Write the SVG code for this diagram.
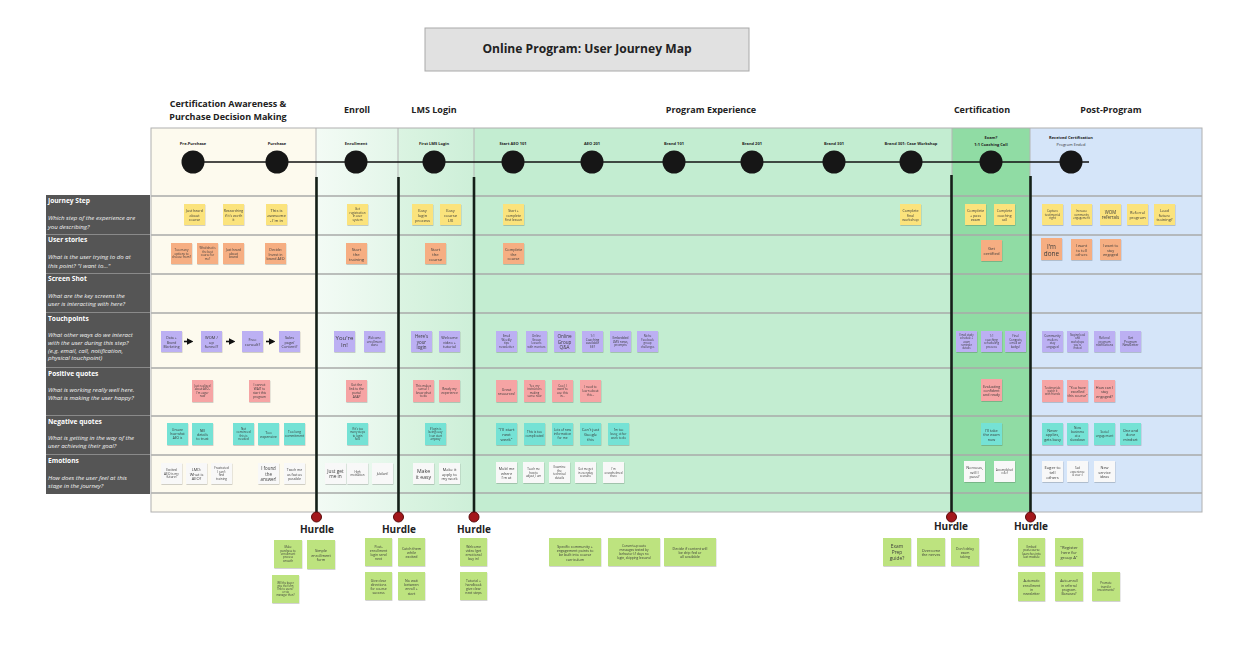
<svg xmlns="http://www.w3.org/2000/svg" width="1253" height="646" viewBox="0 0 1253 646">
<defs>
<style>
text{font-family:"Open Sans","Noto Sans","Liberation Sans",sans-serif}
.title{font-size:12.1px;font-weight:700;fill:#222;text-anchor:middle}
.hd{font-size:9px;font-weight:700;fill:#222;text-anchor:middle}
.tl{font-size:4px;font-weight:700;fill:#222;text-anchor:middle}
.tln{font-size:4px;fill:#333;text-anchor:middle}
.lt{font-size:6.6px;font-weight:700;fill:#fff}
.ld{font-size:6.1px;font-style:italic;fill:#f2f2f2}
.hur{font-size:10px;font-weight:700;fill:#222;text-anchor:middle}
.tx{fill:#3a3a3a;text-anchor:middle;dominant-baseline:central}
.s{filter:url(#sh)}
.y{fill:#fbe37c}.o{fill:#f6ae82}.p{fill:#bcb0f3}.r{fill:#f6a4a4}.t{fill:#74e2d5}.w{fill:#f8f8f8}.g{fill:#bde37f}
.row{stroke:#a9aaa9;stroke-width:1.5}
.thin{stroke:#b5b5b5;stroke-width:1}
.div{stroke:#142018;stroke-width:2.6}
.dot{fill:#a3171b;stroke:#5b0a0a;stroke-width:1}
.node{fill:#161616}
.lab{fill:#555}
.lsep{stroke:#8a8a8a;stroke-width:1}
</style>
<filter id="sh" x="-20%" y="-20%" width="150%" height="150%"><feDropShadow dx="0.4" dy="0.8" stdDeviation="0.6" flood-color="#000" flood-opacity="0.22"/></filter>
<linearGradient id="gEn" x1="0" y1="0" x2="1" y2="0"><stop offset="0" stop-color="#f3fbf5"/><stop offset="1" stop-color="#e3f6e9"/></linearGradient>
<linearGradient id="gLm" x1="0" y1="0" x2="1" y2="0"><stop offset="0" stop-color="#dbf4e2"/><stop offset="1" stop-color="#cdefd8"/></linearGradient>
<marker id="ah" markerWidth="4" markerHeight="4" refX="2.5" refY="2" orient="auto"><path d="M0,0 L4,2 L0,4 z" fill="#111"/></marker>
</defs>
<rect width="1253" height="646" fill="#ffffff"/>

<g id="title">
<rect x="425" y="28" width="324" height="43" fill="#e1e1e1" stroke="#a9a9a9" stroke-width="1"/>
<text class="title" x="587" y="53">Online Program: User Journey Map</text>
</g>

<g id="stage-headers">
<text class="hd" x="228" y="107">Certification Awareness &amp;</text>
<text class="hd" x="228" y="120">Purchase Decision Making</text>
<text class="hd" x="357" y="113">Enroll</text>
<text class="hd" x="434" y="113">LMS Login</text>
<text class="hd" x="711" y="113">Program Experience</text>
<text class="hd" x="982" y="113">Certification</text>
<text class="hd" x="1111" y="113">Post-Program</text>
</g>

<g id="row-labels">
<rect class="lab" x="46" y="195" width="104" height="299"/>
<line class="lsep" x1="46" y1="234.5" x2="150" y2="234.5"/>
<line class="lsep" x1="46" y1="273.5" x2="150" y2="273.5"/>
<line class="lsep" x1="46" y1="312.5" x2="150" y2="312.5"/>
<line class="lsep" x1="46" y1="367.5" x2="150" y2="367.5"/>
<line class="lsep" x1="46" y1="415.5" x2="150" y2="415.5"/>
<line class="lsep" x1="46" y1="454.5" x2="150" y2="454.5"/>
<text class="lt" x="48" y="203">Journey Step</text>
<text class="ld" x="48" y="220">Which step of the experience are</text>
<text class="ld" x="48" y="229">you describing?</text>
<text class="lt" x="48" y="242">User stories</text>
<text class="ld" x="48" y="259">What is the user trying to do at</text>
<text class="ld" x="48" y="267.5">this point? "I want to..."</text>
<text class="lt" x="48" y="281">Screen Shot</text>
<text class="ld" x="48" y="297.5">What are the key screens the</text>
<text class="ld" x="48" y="306">user is interacting with here?</text>
<text class="lt" x="48" y="320.5">Touchpoints</text>
<text class="ld" x="48" y="337">What other ways do we interact</text>
<text class="ld" x="48" y="345">with the user during this step?</text>
<text class="ld" x="48" y="352.5">(e.g. email, call, notification,</text>
<text class="ld" x="48" y="360">physical touchpoint)</text>
<text class="lt" x="48" y="375.5">Positive quotes</text>
<text class="ld" x="48" y="391.5">What is working really well here.</text>
<text class="ld" x="48" y="399.5">What is making the user happy?</text>
<text class="lt" x="48" y="423.5">Negative quotes</text>
<text class="ld" x="48" y="439.5">What is getting in the way of the</text>
<text class="ld" x="48" y="447.5">user achieving their goal?</text>
<text class="lt" x="48" y="462.5">Emotions</text>
<text class="ld" x="48" y="479.5">How does the user feel at this</text>
<text class="ld" x="48" y="487.5">stage in the journey?</text>
</g>

<g id="grid">
<rect x="151" y="128" width="165" height="384" fill="#fdfaee"/>
<rect x="316" y="128" width="82" height="384" fill="url(#gEn)"/>
<rect x="398" y="128" width="76" height="384" fill="url(#gLm)"/>
<rect x="474" y="128" width="478" height="384" fill="#c3edd1"/>
<rect x="952" y="128" width="78" height="384" fill="#90dca4"/>
<rect x="1030" y="128" width="172" height="384" fill="#d5e5f9"/>
<line class="row" x1="151" y1="196" x2="1202" y2="196"/>
<line class="row" x1="151" y1="235" x2="1202" y2="235"/>
<line class="row" x1="151" y1="274" x2="1202" y2="274"/>
<line class="row" x1="151" y1="313" x2="1202" y2="313"/>
<line class="row" x1="151" y1="368" x2="1202" y2="368"/>
<line class="row" x1="151" y1="416" x2="1202" y2="416"/>
<line class="row" x1="151" y1="455" x2="1202" y2="455"/>
<line class="row" x1="151" y1="493" x2="1202" y2="493"/>
<line class="thin" x1="316" y1="128" x2="316" y2="512"/>
<line class="thin" x1="398" y1="128" x2="398" y2="512"/>
<line class="thin" x1="474" y1="128" x2="474" y2="512"/>
<line class="thin" x1="952" y1="128" x2="952" y2="512"/>
<line class="thin" x1="1030" y1="128" x2="1030" y2="512"/>
<rect x="151" y="128" width="1051" height="384" fill="none" stroke="#b0b0b0" stroke-width="1"/>
</g>

<g id="connectors">
<line x1="193" y1="162" x2="1089" y2="162" stroke="#111" stroke-width="1.6"/>
<line class="div" x1="316.5" y1="177" x2="316.5" y2="514"/>
<line class="div" x1="398.5" y1="177" x2="398.5" y2="514"/>
<line class="div" x1="474" y1="177" x2="474" y2="514"/>
<line class="div" x1="951.5" y1="175" x2="951.5" y2="514"/>
<line class="div" x1="1030.5" y1="176" x2="1030.5" y2="514"/>
<line x1="184" y1="341.5" x2="191" y2="341.5" stroke="#111" stroke-width="1.6" marker-end="url(#ah)"/>
<line x1="226" y1="341.5" x2="233" y2="341.5" stroke="#111" stroke-width="1.6" marker-end="url(#ah)"/>
<line x1="266" y1="341.5" x2="273" y2="341.5" stroke="#111" stroke-width="1.6" marker-end="url(#ah)"/>
</g>

<g id="timeline">
<g id="n-prepurchase"><circle class="node" cx="193" cy="162" r="11.5"/><text class="tl" x="193" y="145">Pre-Purchase</text></g>
<g id="n-purchase"><circle class="node" cx="277" cy="162" r="11.5"/><text class="tl" x="277" y="145">Purchase</text></g>
<g id="n-enrollment"><circle class="node" cx="356" cy="162" r="11.5"/><text class="tl" x="356" y="145">Enrollment</text></g>
<g id="n-firstlogin"><circle class="node" cx="434" cy="162" r="11.5"/><text class="tl" x="434" y="145">First LMS Login</text></g>
<g id="n-aeo101"><circle class="node" cx="513" cy="162" r="11.5"/><text class="tl" x="513" y="145">Start AEO 101</text></g>
<g id="n-aeo201"><circle class="node" cx="592" cy="162" r="11.5"/><text class="tl" x="592" y="145">AEO 201</text></g>
<g id="n-brand101"><circle class="node" cx="674" cy="162" r="11.5"/><text class="tl" x="674" y="145">Brand 101</text></g>
<g id="n-brand201"><circle class="node" cx="752" cy="162" r="11.5"/><text class="tl" x="752" y="145">Brand 201</text></g>
<g id="n-brand301"><circle class="node" cx="834" cy="162" r="11.5"/><text class="tl" x="834" y="145">Brand 301</text></g>
<g id="n-case"><circle class="node" cx="911" cy="162" r="11.5"/><text class="tl" x="911" y="145">Brand 301: Case Workshop</text></g>
<g id="n-exam"><circle class="node" cx="991" cy="162" r="11.5"/><text class="tl" x="991" y="139">Exam?</text><text class="tl" x="991" y="146">1:1 Coaching Call</text></g>
<g id="n-received"><circle class="node" cx="1071" cy="162" r="11.5"/><text class="tl" x="1071" y="139">Received Certification</text><text class="tln" x="1071" y="146">Program Ended</text></g>
</g>

<g id="journey-steps">
<g id="js1" class="s"><rect class="y" x="184" y="204" width="21" height="21"/><text class="tx" x="194.5" y="210.2" font-size="3.6"><tspan x="194.5">Just heard</tspan><tspan x="194.5" dy="4.3">about</tspan><tspan x="194.5" dy="4.3">course</tspan></text></g>
<g id="js2" class="s"><rect class="y" x="223" y="204" width="21" height="21"/><text class="tx" x="233.5" y="210.4" font-size="3.4"><tspan x="233.5">Researching</tspan><tspan x="233.5" dy="4.1">if it's worth</tspan><tspan x="233.5" dy="4.1">it</tspan></text></g>
<g id="js3" class="s"><rect class="y" x="266" y="204" width="21" height="21"/><text class="tx" x="276.5" y="209.5" font-size="4.2"><tspan x="276.5">This is</tspan><tspan x="276.5" dy="5">awesome</tspan><tspan x="276.5" dy="5">- I'm in</tspan></text></g>
<g id="js4" class="s"><rect class="y" x="347" y="204" width="21" height="21"/><text class="tx" x="357.5" y="209.1" font-size="3"><tspan x="357.5">Get</tspan><tspan x="357.5" dy="3.6">registration</tspan><tspan x="357.5" dy="3.6">in user</tspan><tspan x="357.5" dy="3.6">system</tspan></text></g>
<g id="js5" class="s"><rect class="y" x="412" y="204" width="21" height="21"/><text class="tx" x="422.5" y="209.5" font-size="4.2"><tspan x="422.5">Easy</tspan><tspan x="422.5" dy="5">login</tspan><tspan x="422.5" dy="5">process</tspan></text></g>
<g id="js6" class="s"><rect class="y" x="440" y="204" width="21" height="21"/><text class="tx" x="450.5" y="209.5" font-size="4.2"><tspan x="450.5">Easy</tspan><tspan x="450.5" dy="5">course</tspan><tspan x="450.5" dy="5">UX</tspan></text></g>
<g id="js7" class="s"><rect class="y" x="503" y="204" width="21" height="21"/><text class="tx" x="513.5" y="210.4" font-size="3.4"><tspan x="513.5">Start +</tspan><tspan x="513.5" dy="4.1">complete</tspan><tspan x="513.5" dy="4.1">first lesson</tspan></text></g>
<g id="js8" class="s"><rect class="y" x="900" y="204" width="21" height="21"/><text class="tx" x="910.5" y="210.2" font-size="3.6"><tspan x="910.5">Complete</tspan><tspan x="910.5" dy="4.3">final</tspan><tspan x="910.5" dy="4.3">workshop</tspan></text></g>
<g id="js9" class="s"><rect class="y" x="965" y="204" width="21" height="21"/><text class="tx" x="975.5" y="210" font-size="3.8"><tspan x="975.5">Complete</tspan><tspan x="975.5" dy="4.5">+ pass</tspan><tspan x="975.5" dy="4.5">exam</tspan></text></g>
<g id="js10" class="s"><rect class="y" x="994" y="204" width="21" height="21"/><text class="tx" x="1004.5" y="210.4" font-size="3.4"><tspan x="1004.5">Complete</tspan><tspan x="1004.5" dy="4.1">coaching</tspan><tspan x="1004.5" dy="4.1">call</tspan></text></g>
<g id="js11" class="s"><rect class="y" x="1042" y="204" width="21" height="21"/><text class="tx" x="1052.5" y="210.9" font-size="3"><tspan x="1052.5">Capture</tspan><tspan x="1052.5" dy="3.6">testimonial</tspan><tspan x="1052.5" dy="3.6">right</tspan></text></g>
<g id="js12" class="s"><rect class="y" x="1071" y="204" width="21" height="21"/><text class="tx" x="1081.5" y="211.1" font-size="2.8"><tspan x="1081.5">Increase</tspan><tspan x="1081.5" dy="3.4">community</tspan><tspan x="1081.5" dy="3.4">engagement</tspan></text></g>
<g id="js13" class="s"><rect class="y" x="1100" y="204" width="21" height="21"/><text class="tx" x="1110.5" y="211.9" font-size="4.4"><tspan x="1110.5">WOM</tspan><tspan x="1110.5" dy="5.2">referrals</tspan></text></g>
<g id="js14" class="s"><rect class="y" x="1127" y="204" width="21" height="21"/><text class="tx" x="1137.5" y="212.1" font-size="4"><tspan x="1137.5">Referral</tspan><tspan x="1137.5" dy="4.8">program</tspan></text></g>
<g id="js15" class="s"><rect class="y" x="1154" y="204" width="21" height="21"/><text class="tx" x="1164.5" y="209.7" font-size="4"><tspan x="1164.5">Lead</tspan><tspan x="1164.5" dy="4.8">future</tspan><tspan x="1164.5" dy="4.8">training?</tspan></text></g>
</g>

<g id="user-stories">
<g id="us1" class="s"><rect class="o" x="171" y="243" width="21" height="21"/><text class="tx" x="181.5" y="249.9" font-size="3"><tspan x="181.5">Too many</tspan><tspan x="181.5" dy="3.6">options to</tspan><tspan x="181.5" dy="3.6">choose from?</tspan></text></g>
<g id="us2" class="s"><rect class="o" x="197" y="243" width="21" height="21"/><text class="tx" x="207.5" y="248.4" font-size="2.8"><tspan x="207.5">Who/what is</tspan><tspan x="207.5" dy="3.4">the best</tspan><tspan x="207.5" dy="3.4">course for</tspan><tspan x="207.5" dy="3.4">me?</tspan></text></g>
<g id="us3" class="s"><rect class="o" x="223" y="243" width="21" height="21"/><text class="tx" x="233.5" y="249.7" font-size="3.2"><tspan x="233.5">Just heard</tspan><tspan x="233.5" dy="3.8">about</tspan><tspan x="233.5" dy="3.8">brand</tspan></text></g>
<g id="us4" class="s"><rect class="o" x="265" y="243" width="21" height="21"/><text class="tx" x="275.5" y="249.2" font-size="3.6"><tspan x="275.5">Decide:</tspan><tspan x="275.5" dy="4.3">Invest in</tspan><tspan x="275.5" dy="4.3">brand AEO</tspan></text></g>
<g id="us5" class="s"><rect class="o" x="346" y="243" width="21" height="21"/><text class="tx" x="356.5" y="248.5" font-size="4.2"><tspan x="356.5">Start</tspan><tspan x="356.5" dy="5">the</tspan><tspan x="356.5" dy="5">training</tspan></text></g>
<g id="us6" class="s"><rect class="o" x="425" y="243" width="21" height="21"/><text class="tx" x="435.5" y="248.5" font-size="4.2"><tspan x="435.5">Start</tspan><tspan x="435.5" dy="5">the</tspan><tspan x="435.5" dy="5">course</tspan></text></g>
<g id="us7" class="s"><rect class="o" x="503" y="243" width="21" height="21"/><text class="tx" x="513.5" y="249" font-size="3.8"><tspan x="513.5">Complete</tspan><tspan x="513.5" dy="4.5">the</tspan><tspan x="513.5" dy="4.5">course</tspan></text></g>
<g id="us8" class="s"><rect class="o" x="981" y="240" width="21" height="21"/><text class="tx" x="991.5" y="248" font-size="4.2"><tspan x="991.5">Get</tspan><tspan x="991.5" dy="5">certified</tspan></text></g>
<g id="us9" class="s"><rect class="o" x="1041" y="238" width="21" height="22"/><text class="tx" x="1051.5" y="245.5" font-size="6.4"><tspan x="1051.5">I'm</tspan><tspan x="1051.5" dy="7">done</tspan></text></g>
<g id="us10" class="s"><rect class="o" x="1071" y="239" width="21" height="21"/><text class="tx" x="1081.5" y="244.7" font-size="4"><tspan x="1081.5">I want</tspan><tspan x="1081.5" dy="4.8">to tell</tspan><tspan x="1081.5" dy="4.8">others</tspan></text></g>
<g id="us11" class="s"><rect class="o" x="1100" y="239" width="21" height="21"/><text class="tx" x="1110.5" y="245" font-size="3.8"><tspan x="1110.5">I want to</tspan><tspan x="1110.5" dy="4.5">stay</tspan><tspan x="1110.5" dy="4.5">engaged</tspan></text></g>
</g>

<g id="touchpoints">
<g id="tp1" class="s"><rect class="p" x="161" y="331" width="21" height="21"/><text class="tx" x="171.5" y="337.4" font-size="3.4"><tspan x="171.5">Data +</tspan><tspan x="171.5" dy="4.1">Brand</tspan><tspan x="171.5" dy="4.1">Marketing</tspan></text></g>
<g id="tp2" class="s"><rect class="p" x="201" y="331" width="21" height="21"/><text class="tx" x="211.5" y="336.7" font-size="4"><tspan x="211.5">WOM /</tspan><tspan x="211.5" dy="4.8">up</tspan><tspan x="211.5" dy="4.8">funnel?</tspan></text></g>
<g id="tp3" class="s"><rect class="p" x="242" y="331" width="21" height="21"/><text class="tx" x="252.5" y="339.1" font-size="4"><tspan x="252.5">Free</tspan><tspan x="252.5" dy="4.8">consult?</tspan></text></g>
<g id="tp4" class="s"><rect class="p" x="279" y="331" width="21" height="21"/><text class="tx" x="289.5" y="337" font-size="3.8"><tspan x="289.5">Sales</tspan><tspan x="289.5" dy="4.5">page/</tspan><tspan x="289.5" dy="4.5">Content?</tspan></text></g>
<g id="tp5" class="s"><rect class="p" x="334" y="331" width="21" height="21"/><text class="tx" x="344.5" y="338.2" font-size="6"><tspan x="344.5">You're</tspan><tspan x="344.5" dy="6.6">In!</tspan></text></g>
<g id="tp6" class="s"><rect class="p" x="364" y="331" width="21" height="21"/><text class="tx" x="374.5" y="337.9" font-size="3"><tspan x="374.5">Welcome</tspan><tspan x="374.5" dy="3.6">enrollment</tspan><tspan x="374.5" dy="3.6">done</tspan></text></g>
<g id="tp7" class="s"><rect class="p" x="411" y="331" width="21" height="21"/><text class="tx" x="421.5" y="336.3" font-size="4.4"><tspan x="421.5">Here's</tspan><tspan x="421.5" dy="5.2">your</tspan><tspan x="421.5" dy="5.2">login</tspan></text></g>
<g id="tp8" class="s"><rect class="p" x="439" y="331" width="21" height="21"/><text class="tx" x="449.5" y="337" font-size="3.8"><tspan x="449.5">Welcome</tspan><tspan x="449.5" dy="4.5">video +</tspan><tspan x="449.5" dy="4.5">tutorial</tspan></text></g>
<g id="tp9" class="s"><rect class="p" x="496" y="331" width="21" height="21"/><text class="tx" x="506.5" y="336.1" font-size="3"><tspan x="506.5">Email</tspan><tspan x="506.5" dy="3.6">Weekly</tspan><tspan x="506.5" dy="3.6">tips</tspan><tspan x="506.5" dy="3.6">newsletter</tspan></text></g>
<g id="tp10" class="s"><rect class="p" x="526" y="331" width="21" height="21"/><text class="tx" x="536.5" y="336.3" font-size="2.9"><tspan x="536.5">Online</tspan><tspan x="536.5" dy="3.5">Group</tspan><tspan x="536.5" dy="3.5">lessons</tspan><tspan x="536.5" dy="3.5">with mentors</tspan></text></g>
<g id="tp11" class="s"><rect class="p" x="554" y="331" width="21" height="21"/><text class="tx" x="564.5" y="336.2" font-size="4.6"><tspan x="564.5">Online</tspan><tspan x="564.5" dy="5.3">Group</tspan><tspan x="564.5" dy="5.3">Q&amp;A</tspan></text></g>
<g id="tp12" class="s"><rect class="p" x="582" y="331" width="21" height="21"/><text class="tx" x="592.5" y="335.8" font-size="3.2"><tspan x="592.5">1:1</tspan><tspan x="592.5" dy="3.8">Coaching</tspan><tspan x="592.5" dy="3.8">available</tspan><tspan x="592.5" dy="3.8">$$?</tspan></text></g>
<g id="tp13" class="s"><rect class="p" x="610" y="331" width="21" height="21"/><text class="tx" x="620.5" y="337.7" font-size="3.2"><tspan x="620.5">Embedded</tspan><tspan x="620.5" dy="3.8">LMS news,</tspan><tspan x="620.5" dy="3.8">prompts</tspan></text></g>
<g id="tp14" class="s"><rect class="p" x="637" y="331" width="21" height="21"/><text class="tx" x="647.5" y="336.4" font-size="2.8"><tspan x="647.5">Niche</tspan><tspan x="647.5" dy="3.4">Facebook</tspan><tspan x="647.5" dy="3.4">group</tspan><tspan x="647.5" dy="3.4">challenges</tspan></text></g>
<g id="tp15" class="s"><rect class="p" x="956" y="331" width="21" height="21"/><text class="tx" x="966.5" y="335.3" font-size="2.6"><tspan x="966.5">Email study</tspan><tspan x="966.5" dy="3.1">schedule +</tspan><tspan x="966.5" dy="3.1">exam</tspan><tspan x="966.5" dy="3.1">reminder</tspan><tspan x="966.5" dy="3.1">details</tspan></text></g>
<g id="tp16" class="s"><rect class="p" x="981" y="331" width="21" height="21"/><text class="tx" x="991.5" y="336.1" font-size="3"><tspan x="991.5">1:1</tspan><tspan x="991.5" dy="3.6">coaching</tspan><tspan x="991.5" dy="3.6">scheduling</tspan><tspan x="991.5" dy="3.6">process</tspan></text></g>
<g id="tp17" class="s"><rect class="p" x="1005" y="331" width="21" height="21"/><text class="tx" x="1015.5" y="336.1" font-size="3"><tspan x="1015.5">Final</tspan><tspan x="1015.5" dy="3.6">Congrats</tspan><tspan x="1015.5" dy="3.6">email w/</tspan><tspan x="1015.5" dy="3.6">badge!</tspan></text></g>
<g id="tp18" class="s"><rect class="p" x="1042" y="331" width="21" height="21"/><text class="tx" x="1052.5" y="336.1" font-size="3"><tspan x="1052.5">Community</tspan><tspan x="1052.5" dy="3.6">mailers</tspan><tspan x="1052.5" dy="3.6">stay</tspan><tspan x="1052.5" dy="3.6">engaged</tspan></text></g>
<g id="tp19" class="s"><rect class="p" x="1067" y="331" width="21" height="21"/><text class="tx" x="1077.5" y="335.3" font-size="2.6"><tspan x="1077.5">Staying local</tspan><tspan x="1077.5" dy="3.1">and</tspan><tspan x="1077.5" dy="3.1">workshops</tspan><tspan x="1077.5" dy="3.1">you're</tspan><tspan x="1077.5" dy="3.1">invited</tspan></text></g>
<g id="tp20" class="s"><rect class="p" x="1094" y="331" width="21" height="21"/><text class="tx" x="1104.5" y="337.9" font-size="3"><tspan x="1104.5">Referral</tspan><tspan x="1104.5" dy="3.6">program</tspan><tspan x="1104.5" dy="3.6">notifications</tspan></text></g>
<g id="tp21" class="s"><rect class="p" x="1120" y="331" width="21" height="21"/><text class="tx" x="1130.5" y="337.7" font-size="3.2"><tspan x="1130.5">Get</tspan><tspan x="1130.5" dy="3.8">Program</tspan><tspan x="1130.5" dy="3.8">Newsletter</tspan></text></g>
</g>

<g id="positive-quotes">
<g id="pq1" class="s"><rect class="r" x="192" y="380" width="21" height="22"/><text class="tx" x="202.5" y="385.9" font-size="2.8"><tspan x="202.5">Just realized</tspan><tspan x="202.5" dy="3.4">about AEO -</tspan><tspan x="202.5" dy="3.4">I'm eager</tspan><tspan x="202.5" dy="3.4">now</tspan></text></g>
<g id="pq2" class="s"><rect class="r" x="249" y="380" width="21" height="22"/><text class="tx" x="259.5" y="385.3" font-size="3.2"><tspan x="259.5">I cannot</tspan><tspan x="259.5" dy="3.8">WAIT to</tspan><tspan x="259.5" dy="3.8">start this</tspan><tspan x="259.5" dy="3.8">program</tspan></text></g>
<g id="pq3" class="s"><rect class="r" x="346" y="380" width="21" height="22"/><text class="tx" x="356.5" y="385.3" font-size="3.2"><tspan x="356.5">Got the</tspan><tspan x="356.5" dy="3.8">link to the</tspan><tspan x="356.5" dy="3.8">portal</tspan><tspan x="356.5" dy="3.8">ASAP</tspan></text></g>
<g id="pq4" class="s"><rect class="r" x="413" y="380" width="21" height="22"/><text class="tx" x="423.5" y="385.6" font-size="3"><tspan x="423.5">This makes</tspan><tspan x="423.5" dy="3.6">sense! I</tspan><tspan x="423.5" dy="3.6">know what</tspan><tspan x="423.5" dy="3.6">to do</tspan></text></g>
<g id="pq5" class="s"><rect class="r" x="439" y="380" width="21" height="22"/><text class="tx" x="449.5" y="389.1" font-size="3.2"><tspan x="449.5">Ready my</tspan><tspan x="449.5" dy="3.8">experience</tspan></text></g>
<g id="pq6" class="s"><rect class="r" x="496" y="380" width="21" height="22"/><text class="tx" x="506.5" y="388.9" font-size="3.6"><tspan x="506.5">Great</tspan><tspan x="506.5" dy="4.3">resources!</tspan></text></g>
<g id="pq7" class="s"><rect class="r" x="524" y="380" width="21" height="22"/><text class="tx" x="534.5" y="385.9" font-size="2.8"><tspan x="534.5">Yes, my</tspan><tspan x="534.5" dy="3.4">instructors</tspan><tspan x="534.5" dy="3.4">making</tspan><tspan x="534.5" dy="3.4">sense now</tspan></text></g>
<g id="pq8" class="s"><rect class="r" x="552" y="380" width="21" height="22"/><text class="tx" x="562.5" y="385.6" font-size="3"><tspan x="562.5">Cool, I</tspan><tspan x="562.5" dy="3.6">want to</tspan><tspan x="562.5" dy="3.6">use this</tspan><tspan x="562.5" dy="3.6">in...</tspan></text></g>
<g id="pq9" class="s"><rect class="r" x="580" y="380" width="21" height="22"/><text class="tx" x="590.5" y="387.4" font-size="3"><tspan x="590.5">I need to</tspan><tspan x="590.5" dy="3.6">learn about</tspan><tspan x="590.5" dy="3.6">this...</tspan></text></g>
<g id="pq10" class="s"><rect class="r" x="981" y="379" width="21" height="22"/><text class="tx" x="991.5" y="385.7" font-size="3.6"><tspan x="991.5">Evaluating</tspan><tspan x="991.5" dy="4.3">confident</tspan><tspan x="991.5" dy="4.3">and ready</tspan></text></g>
<g id="pq11" class="s"><rect class="r" x="1042" y="380" width="21" height="22"/><text class="tx" x="1052.5" y="387.8" font-size="2.7"><tspan x="1052.5">Testimonials</tspan><tspan x="1052.5" dy="3.2">watch it</tspan><tspan x="1052.5" dy="3.2">with friends</tspan></text></g>
<g id="pq12" class="s"><rect class="r" x="1067" y="380" width="21" height="22"/><text class="tx" x="1077.5" y="386.7" font-size="3.6"><tspan x="1077.5">"You have</tspan><tspan x="1077.5" dy="4.3">excelled</tspan><tspan x="1077.5" dy="4.3">this course"</tspan></text></g>
<g id="pq13" class="s"><rect class="r" x="1094" y="380" width="21" height="22"/><text class="tx" x="1104.5" y="386.5" font-size="3.8"><tspan x="1104.5">How can I</tspan><tspan x="1104.5" dy="4.5">stay</tspan><tspan x="1104.5" dy="4.5">engaged?</tspan></text></g>
</g>

<g id="negative-quotes">
<g id="nq1" class="s"><rect class="t" x="167" y="423" width="21" height="22"/><text class="tx" x="177.5" y="430.2" font-size="3.2"><tspan x="177.5">Unsure</tspan><tspan x="177.5" dy="3.8">how what</tspan><tspan x="177.5" dy="3.8">AEO is</tspan></text></g>
<g id="nq2" class="s"><rect class="t" x="192" y="423" width="21" height="22"/><text class="tx" x="202.5" y="429.7" font-size="3.6"><tspan x="202.5">NEI</tspan><tspan x="202.5" dy="4.3">details</tspan><tspan x="202.5" dy="4.3">to trust</tspan></text></g>
<g id="nq3" class="s"><rect class="t" x="233" y="423" width="21" height="22"/><text class="tx" x="243.5" y="428.6" font-size="3"><tspan x="243.5">Not</tspan><tspan x="243.5" dy="3.6">convinced</tspan><tspan x="243.5" dy="3.6">this is</tspan><tspan x="243.5" dy="3.6">needed</tspan></text></g>
<g id="nq4" class="s"><rect class="t" x="258" y="423" width="21" height="22"/><text class="tx" x="268.5" y="431.9" font-size="3.6"><tspan x="268.5">Too</tspan><tspan x="268.5" dy="4.3">expensive</tspan></text></g>
<g id="nq5" class="s"><rect class="t" x="284" y="423" width="21" height="22"/><text class="tx" x="294.5" y="432.1" font-size="3.2"><tspan x="294.5">Too long</tspan><tspan x="294.5" dy="3.8">commitment</tspan></text></g>
<g id="nq6" class="s"><rect class="t" x="347" y="423" width="21" height="22"/><text class="tx" x="357.5" y="428.9" font-size="2.8"><tspan x="357.5">If it's too</tspan><tspan x="357.5" dy="3.4">many steps</tspan><tspan x="357.5" dy="3.4">to login</tspan><tspan x="357.5" dy="3.4">fails</tspan></text></g>
<g id="nq7" class="s"><rect class="t" x="425" y="423" width="21" height="22"/><text class="tx" x="435.5" y="428.9" font-size="2.8"><tspan x="435.5">If login is</tspan><tspan x="435.5" dy="3.4">being easy</tspan><tspan x="435.5" dy="3.4">I can start</tspan><tspan x="435.5" dy="3.4">anyway</tspan></text></g>
<g id="nq8" class="s"><rect class="t" x="496" y="423" width="21" height="22"/><text class="tx" x="506.5" y="429" font-size="4.2"><tspan x="506.5">"I'll start</tspan><tspan x="506.5" dy="5">next</tspan><tspan x="506.5" dy="5">week"</tspan></text></g>
<g id="nq9" class="s"><rect class="t" x="524" y="423" width="21" height="22"/><text class="tx" x="534.5" y="432.1" font-size="3.2"><tspan x="534.5">This is too</tspan><tspan x="534.5" dy="3.8">complicated</tspan></text></g>
<g id="nq10" class="s"><rect class="t" x="552" y="423" width="21" height="22"/><text class="tx" x="562.5" y="430.2" font-size="3.2"><tspan x="562.5">Lots of new</tspan><tspan x="562.5" dy="3.8">information</tspan><tspan x="562.5" dy="3.8">for me</tspan></text></g>
<g id="nq11" class="s"><rect class="t" x="580" y="423" width="21" height="22"/><text class="tx" x="590.5" y="429.2" font-size="4"><tspan x="590.5">Can't just</tspan><tspan x="590.5" dy="4.8">Google</tspan><tspan x="590.5" dy="4.8">this</tspan></text></g>
<g id="nq12" class="s"><rect class="t" x="608" y="423" width="21" height="22"/><text class="tx" x="618.5" y="430.4" font-size="3"><tspan x="618.5">I'm too</tspan><tspan x="618.5" dy="3.6">busy, other</tspan><tspan x="618.5" dy="3.6">work to do</tspan></text></g>
<g id="nq13" class="s"><rect class="t" x="981" y="423" width="21" height="22"/><text class="tx" x="991.5" y="429.5" font-size="3.8"><tspan x="991.5">I'll take</tspan><tspan x="991.5" dy="4.5">the exam</tspan><tspan x="991.5" dy="4.5">now</tspan></text></g>
<g id="nq14" class="s"><rect class="t" x="1042" y="423" width="21" height="22"/><text class="tx" x="1052.5" y="429.5" font-size="3.8"><tspan x="1052.5">Never</tspan><tspan x="1052.5" dy="4.5">applies,</tspan><tspan x="1052.5" dy="4.5">gets busy</tspan></text></g>
<g id="nq15" class="s"><rect class="t" x="1067" y="423" width="21" height="22"/><text class="tx" x="1077.5" y="428.3" font-size="3.2"><tspan x="1077.5">Now</tspan><tspan x="1077.5" dy="3.8">business</tspan><tspan x="1077.5" dy="3.8">at a</tspan><tspan x="1077.5" dy="3.8">slowdown</tspan></text></g>
<g id="nq16" class="s"><rect class="t" x="1094" y="423" width="21" height="22"/><text class="tx" x="1104.5" y="432.2" font-size="3"><tspan x="1104.5">Social</tspan><tspan x="1104.5" dy="3.6">engagement</tspan></text></g>
<g id="nq17" class="s"><rect class="t" x="1120" y="423" width="21" height="22"/><text class="tx" x="1130.5" y="429.5" font-size="3.8"><tspan x="1130.5">One and</tspan><tspan x="1130.5" dy="4.5">done</tspan><tspan x="1130.5" dy="4.5">mindset</tspan></text></g>
</g>

<g id="emotions">
<g id="em1" class="s"><rect class="w" x="161" y="463" width="21" height="21"/><text class="tx" x="171.5" y="469.7" font-size="3.2"><tspan x="171.5">Excited</tspan><tspan x="171.5" dy="3.8">AEO is my</tspan><tspan x="171.5" dy="3.8">future!</tspan></text></g>
<g id="em2" class="s"><rect class="w" x="186" y="463" width="21" height="21"/><text class="tx" x="196.5" y="468.7" font-size="4"><tspan x="196.5">LMD:</tspan><tspan x="196.5" dy="4.8">What is</tspan><tspan x="196.5" dy="4.8">AEO?</tspan></text></g>
<g id="em3" class="s"><rect class="w" x="211" y="463" width="21" height="21"/><text class="tx" x="221.5" y="468.1" font-size="3"><tspan x="221.5">Frustrated</tspan><tspan x="221.5" dy="3.6">I can't</tspan><tspan x="221.5" dy="3.6">find</tspan><tspan x="221.5" dy="3.6">training</tspan></text></g>
<g id="em4" class="s"><rect class="w" x="258" y="463" width="21" height="21"/><text class="tx" x="268.5" y="468.3" font-size="4.4"><tspan x="268.5">I found</tspan><tspan x="268.5" dy="5.2">the</tspan><tspan x="268.5" dy="5.2">answer!</tspan></text></g>
<g id="em5" class="s"><rect class="w" x="284" y="463" width="21" height="21"/><text class="tx" x="294.5" y="469.4" font-size="3.4"><tspan x="294.5">Teach me</tspan><tspan x="294.5" dy="4.1">as fast as</tspan><tspan x="294.5" dy="4.1">possible</tspan></text></g>
<g id="em6" class="s"><rect class="w" x="325" y="463" width="21" height="21"/><text class="tx" x="335.5" y="470.7" font-size="4.8"><tspan x="335.5">Just get</tspan><tspan x="335.5" dy="5.6">me in</tspan></text></g>
<g id="em7" class="s"><rect class="w" x="347" y="463" width="21" height="21"/><text class="tx" x="357.5" y="471.8" font-size="2.8"><tspan x="357.5">High</tspan><tspan x="357.5" dy="3.4">motivation</tspan></text></g>
<g id="em8" class="s"><rect class="w" x="372" y="463" width="21" height="21"/><text class="tx" x="382.5" y="473.5" font-size="3">Jubilant!</text></g>
<g id="em9" class="s"><rect class="w" x="413" y="463" width="21" height="21"/><text class="tx" x="423.5" y="470.5" font-size="5.2"><tspan x="423.5">Make</tspan><tspan x="423.5" dy="6">it easy</tspan></text></g>
<g id="em10" class="s"><rect class="w" x="439" y="463" width="21" height="21"/><text class="tx" x="449.5" y="468.7" font-size="4"><tspan x="449.5">Make it</tspan><tspan x="449.5" dy="4.8">apply to</tspan><tspan x="449.5" dy="4.8">my work</tspan></text></g>
<g id="em11" class="s"><rect class="w" x="496" y="462" width="21" height="21"/><text class="tx" x="506.5" y="468" font-size="3.8"><tspan x="506.5">Mold me</tspan><tspan x="506.5" dy="4.5">where</tspan><tspan x="506.5" dy="4.5">I'm at</tspan></text></g>
<g id="em12" class="s"><rect class="w" x="523" y="462" width="21" height="21"/><text class="tx" x="533.5" y="469.1" font-size="2.8"><tspan x="533.5">Teach me</tspan><tspan x="533.5" dy="3.4">how to</tspan><tspan x="533.5" dy="3.4">adjust, I am</tspan></text></g>
<g id="em13" class="s"><rect class="w" x="549" y="462" width="21" height="21"/><text class="tx" x="559.5" y="467.1" font-size="3"><tspan x="559.5">Examine</tspan><tspan x="559.5" dy="3.6">the</tspan><tspan x="559.5" dy="3.6">technical</tspan><tspan x="559.5" dy="3.6">details</tspan></text></g>
<g id="em14" class="s"><rect class="w" x="575" y="462" width="21" height="21"/><text class="tx" x="585.5" y="469.1" font-size="2.8"><tspan x="585.5">Get me get</tspan><tspan x="585.5" dy="3.4">in everyday</tspan><tspan x="585.5" dy="3.4">scenario</tspan></text></g>
<g id="em15" class="s"><rect class="w" x="603" y="462" width="21" height="21"/><text class="tx" x="613.5" y="469.1" font-size="2.8"><tspan x="613.5">I'm</tspan><tspan x="613.5" dy="3.4">overwhelmed</tspan><tspan x="613.5" dy="3.4">there</tspan></text></g>
<g id="em16" class="s"><rect class="w" x="964" y="461" width="21" height="21"/><text class="tx" x="974.5" y="466.7" font-size="4"><tspan x="974.5">Nervous,</tspan><tspan x="974.5" dy="4.8">will I</tspan><tspan x="974.5" dy="4.8">pass?</tspan></text></g>
<g id="em17" class="s"><rect class="w" x="994" y="461" width="21" height="21"/><text class="tx" x="1004.5" y="470" font-size="2.6"><tspan x="1004.5">Accomplished</tspan><tspan x="1004.5" dy="3.1">relief</tspan></text></g>
<g id="em18" class="s"><rect class="w" x="1042" y="461" width="21" height="21"/><text class="tx" x="1052.5" y="466.5" font-size="4.2"><tspan x="1052.5">Eager to</tspan><tspan x="1052.5" dy="5">tell</tspan><tspan x="1052.5" dy="5">others</tspan></text></g>
<g id="em19" class="s"><rect class="w" x="1067" y="461" width="21" height="21"/><text class="tx" x="1077.5" y="468.1" font-size="2.8"><tspan x="1077.5">Sad</tspan><tspan x="1077.5" dy="3.4">experience</tspan><tspan x="1077.5" dy="3.4">is over :(</tspan></text></g>
<g id="em20" class="s"><rect class="w" x="1094" y="461" width="21" height="21"/><text class="tx" x="1104.5" y="467" font-size="3.8"><tspan x="1104.5">New</tspan><tspan x="1104.5" dy="4.5">service</tspan><tspan x="1104.5" dy="4.5">ideas</tspan></text></g>
</g>

<g id="hurdles">
<g id="hurdle1"><circle class="dot" cx="316.5" cy="517" r="5"/><text class="hur" x="317" y="533">Hurdle</text></g>
<g id="hurdle2"><circle class="dot" cx="398.5" cy="517" r="5"/><text class="hur" x="399" y="533">Hurdle</text></g>
<g id="hurdle3"><circle class="dot" cx="474" cy="517" r="5"/><text class="hur" x="474" y="533">Hurdle</text></g>
<g id="hurdle4"><circle class="dot" cx="951.5" cy="517" r="5"/><text class="hur" x="951" y="530">Hurdle</text></g>
<g id="hurdle5"><circle class="dot" cx="1030.5" cy="517" r="5"/><text class="hur" x="1031" y="530">Hurdle</text></g>
</g>

<g id="hurdle-notes">
<g id="h1a" class="s"><rect class="g" x="274" y="540" width="28" height="28"/><text class="tx" x="288" y="547.2" font-size="2.8"><tspan x="288">Make</tspan><tspan x="288" dy="3.4">purchase to</tspan><tspan x="288" dy="3.4">enrollment</tspan><tspan x="288" dy="3.4">process</tspan><tspan x="288" dy="3.4">smooth</tspan></text></g>
<g id="h1b" class="s"><rect class="g" x="307" y="540" width="28" height="29"/><text class="tx" x="321" y="550" font-size="3.8"><tspan x="321">Simple</tspan><tspan x="321" dy="4.5">enrollment</tspan><tspan x="321" dy="4.5">form</tspan></text></g>
<g id="h1c" class="s"><rect class="g" x="272" y="575" width="27" height="28"/><text class="tx" x="285.5" y="582.6" font-size="2.6"><tspan x="285.5">Will the buyer</tspan><tspan x="285.5" dy="3.2">give the form</tspan><tspan x="285.5" dy="3.2">link to users?</tspan><tspan x="285.5" dy="3.2">or via</tspan><tspan x="285.5" dy="3.2">manager then?</tspan></text></g>
<g id="h2a" class="s"><rect class="g" x="365" y="538" width="27" height="28"/><text class="tx" x="378.5" y="545.9" font-size="3.4"><tspan x="378.5">Post-</tspan><tspan x="378.5" dy="4.1">enrollment</tspan><tspan x="378.5" dy="4.1">login send</tspan><tspan x="378.5" dy="4.1">next</tspan></text></g>
<g id="h2b" class="s"><rect class="g" x="398" y="538" width="27" height="28"/><text class="tx" x="411.5" y="547.7" font-size="3.6"><tspan x="411.5">Catch them</tspan><tspan x="411.5" dy="4.3">while</tspan><tspan x="411.5" dy="4.3">excited</tspan></text></g>
<g id="h2c" class="s"><rect class="g" x="365" y="572" width="27" height="28"/><text class="tx" x="378.5" y="579.9" font-size="3.4"><tspan x="378.5">Give clear</tspan><tspan x="378.5" dy="4.1">directions</tspan><tspan x="378.5" dy="4.1">for course</tspan><tspan x="378.5" dy="4.1">success</tspan></text></g>
<g id="h2d" class="s"><rect class="g" x="398" y="572" width="27" height="28"/><text class="tx" x="411.5" y="579.6" font-size="3.6"><tspan x="411.5">No wait</tspan><tspan x="411.5" dy="4.3">between</tspan><tspan x="411.5" dy="4.3">enroll +</tspan><tspan x="411.5" dy="4.3">start</tspan></text></g>
<g id="h3a" class="s"><rect class="g" x="460" y="538" width="27" height="28"/><text class="tx" x="473.5" y="545.9" font-size="3.4"><tspan x="473.5">Welcome</tspan><tspan x="473.5" dy="4.1">video (get</tspan><tspan x="473.5" dy="4.1">emotional</tspan><tspan x="473.5" dy="4.1">buy in)</tspan></text></g>
<g id="h3b" class="s"><rect class="g" x="460" y="572" width="27" height="28"/><text class="tx" x="473.5" y="579.9" font-size="3.4"><tspan x="473.5">Tutorial +</tspan><tspan x="473.5" dy="4.1">handbook</tspan><tspan x="473.5" dy="4.1">give clear</tspan><tspan x="473.5" dy="4.1">next steps</tspan></text></g>
<g id="m1" class="s"><rect class="g" x="549" y="538" width="52" height="28"/><text class="tx" x="575" y="545.6" font-size="3.6"><tspan x="575">Specific community +</tspan><tspan x="575" dy="4.3">engagement points to</tspan><tspan x="575" dy="4.3">be built into course</tspan><tspan x="575" dy="4.3">curriculum</tspan></text></g>
<g id="m2" class="s"><rect class="g" x="608" y="538" width="52" height="28"/><text class="tx" x="634" y="546.3" font-size="3.2"><tspan x="634">Convert-up auto</tspan><tspan x="634" dy="3.8">messages tested by</tspan><tspan x="634" dy="3.8">behavior (# days no</tspan><tspan x="634" dy="3.8">login, skipping lessons)</tspan></text></g>
<g id="m3" class="s"><rect class="g" x="664" y="538" width="52" height="28"/><text class="tx" x="690" y="547.7" font-size="3.6"><tspan x="690">Decide if content will</tspan><tspan x="690" dy="4.3">be drip fed or</tspan><tspan x="690" dy="4.3">all available</tspan></text></g>
<g id="h4a" class="s"><rect class="g" x="883" y="538" width="28" height="28"/><text class="tx" x="897" y="546.4" font-size="4.8"><tspan x="897">Exam</tspan><tspan x="897" dy="5.6">Prep</tspan><tspan x="897" dy="5.6">guide?</tspan></text></g>
<g id="h4b" class="s"><rect class="g" x="917" y="538" width="28" height="28"/><text class="tx" x="931" y="549.8" font-size="3.8"><tspan x="931">Overcome</tspan><tspan x="931" dy="4.5">the nerves</tspan></text></g>
<g id="h4c" class="s"><rect class="g" x="951" y="538" width="28" height="28"/><text class="tx" x="965" y="547.9" font-size="3.4"><tspan x="965">Don't delay</tspan><tspan x="965" dy="4.1">exam</tspan><tspan x="965" dy="4.1">taking</tspan></text></g>
<g id="h5a" class="s"><rect class="g" x="1018" y="538" width="27" height="28"/><text class="tx" x="1031.5" y="546.6" font-size="3"><tspan x="1031.5">Embed</tspan><tspan x="1031.5" dy="3.6">post-course</tspan><tspan x="1031.5" dy="3.6">launches into</tspan><tspan x="1031.5" dy="3.6">last module</tspan></text></g>
<g id="h5b" class="s"><rect class="g" x="1055" y="538" width="28" height="28"/><text class="tx" x="1069" y="547" font-size="4.2"><tspan x="1069">"Register</tspan><tspan x="1069" dy="5">here for</tspan><tspan x="1069" dy="5">group A"</tspan></text></g>
<g id="h5c" class="s"><rect class="g" x="1018" y="572" width="27" height="29"/><text class="tx" x="1031.5" y="580.4" font-size="3.4"><tspan x="1031.5">Automatic</tspan><tspan x="1031.5" dy="4.1">enrollment</tspan><tspan x="1031.5" dy="4.1">in</tspan><tspan x="1031.5" dy="4.1">newsletter</tspan></text></g>
<g id="h5d" class="s"><rect class="g" x="1055" y="572" width="28" height="29"/><text class="tx" x="1069" y="580.4" font-size="3.4"><tspan x="1069">Auto-enroll</tspan><tspan x="1069" dy="4.1">in referral</tspan><tspan x="1069" dy="4.1">program.</tspan><tspan x="1069" dy="4.1">Bonuses?</tspan></text></g>
<g id="h5e" class="s"><rect class="g" x="1092" y="572" width="28" height="29"/><text class="tx" x="1106" y="583.1" font-size="2.8"><tspan x="1106">Promote</tspan><tspan x="1106" dy="3.4">transfer</tspan><tspan x="1106" dy="3.4">investments?</tspan></text></g>
</g>
</svg>
